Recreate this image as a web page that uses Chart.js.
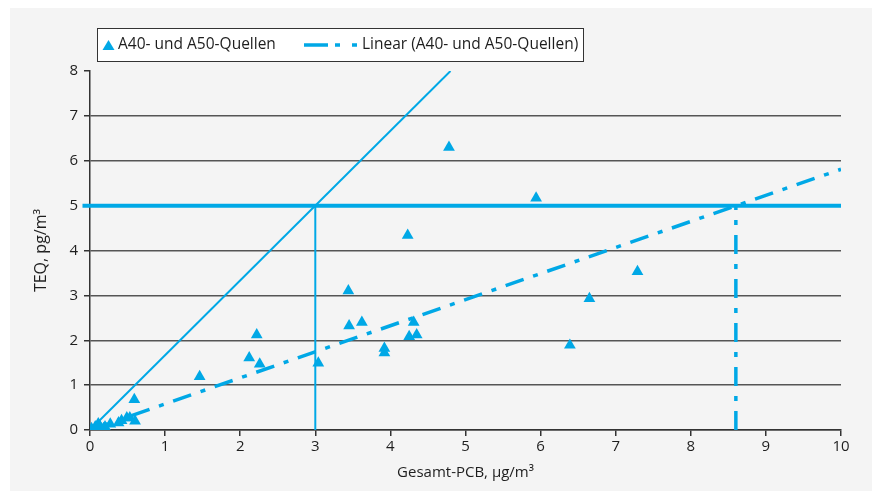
<!DOCTYPE html>
<html>
<head>
<meta charset="utf-8">
<script src="https://cdn.jsdelivr.net/npm/chart.js@4"></script>
<style>
  body { margin: 0; background: #fff; }
  .chart-container { position: absolute; left: 10px; top: 8px; width: 862px; height: 483px; background: #f4f4f4; }
</style>
</head>
<body>
<div class="chart-container"><canvas id="pcbChart"></canvas></div>
<script>
// Measured values (Gesamt-PCB in µg/m3, TEQ in pg/m3)
const pcbValues = [0.02, 0.07, 0.11, 0.13, 0.18, 0.20, 0.27, 0.38, 0.42, 0.49, 0.53, 0.60, 0.59,
                   1.46, 2.12, 2.22, 2.26, 3.04, 3.44, 3.45, 3.62, 3.92, 3.92, 4.23, 4.25,
                   4.31, 4.35, 4.78, 5.94, 6.39, 6.65, 7.29];
const teqValues = [0.03, 0.07, 0.14, 0.09, 0.03, 0.07, 0.13, 0.16, 0.21, 0.27, 0.27, 0.20, 0.68,
                   1.19, 1.61, 2.12, 1.47, 1.49, 3.10, 2.32, 2.40, 1.82, 1.72, 4.34, 2.08,
                   2.40, 2.12, 6.30, 5.17, 1.89, 2.93, 3.53];

// Linear trend (A40- und A50-Quellen)
const trendX = [0, 10];
const trendY = [0, 5.81];

// Guide lines
const limitTeq = 5;
const limitX = [-0.1, 10];
const steepX = [0, 4.8];
const steepY = [0, 8];
const crossSteep = 3;
const crossTrend = 8.6;

const legendLabels = ['A40- und A50-Quellen', 'Linear (A40- und A50-Quellen)'];

const blue = '#00a8e6';
const dashDot = [19, 10, 5, 10];
const fontFamily = '"Open Sans", sans-serif';

function pts(xs, ys) {
    return xs.map((x, i) => ({ x: x, y: ys[i] }));
}

// Legend box drawn on the canvas
const boxLegend = {
    id: 'boxLegend',
    afterDraw(chart) {
        const ctx = chart.ctx;
        ctx.save();
        ctx.fillStyle = '#fff';
        ctx.fillRect(87, 20, 486, 33);
        ctx.strokeStyle = '#333';
        ctx.lineWidth = 1;
        ctx.strokeRect(87.5, 20.5, 486, 33);

        // triangle marker
        ctx.fillStyle = blue;
        ctx.beginPath();
        ctx.moveTo(98.5, 32);
        ctx.lineTo(104.5, 42);
        ctx.lineTo(92.5, 42);
        ctx.closePath();
        ctx.fill();

        ctx.font = '15.5px ' + fontFamily;
        ctx.fillStyle = '#1e1e1e';
        ctx.textBaseline = 'middle';
        ctx.fillText(legendLabels[0], 108, 37);

        // dashed line sample
        ctx.strokeStyle = blue;
        ctx.lineWidth = 3.5;
        ctx.setLineDash([24, 7, 5, 12, 5, 100]);
        ctx.beginPath();
        ctx.moveTo(294, 37);
        ctx.lineTo(348, 37);
        ctx.stroke();
        ctx.setLineDash([]);

        ctx.fillText(legendLabels[1], 352, 37);
        ctx.restore();
    }
};

function renderChart() {
    const ctx = document.getElementById('pcbChart').getContext('2d');

    new Chart(ctx, {
        type: 'scatter',
        data: {
            datasets: [{
                label: legendLabels[0],
                data: pts(pcbValues, teqValues),
                pointStyle: 'triangle',
                pointRadius: 6.8,
                backgroundColor: blue,
                borderWidth: 0
            }, {
                data: pts(steepX, steepY),
                showLine: true,
                borderColor: blue,
                borderWidth: 2,
                pointRadius: 0
            }, {
                data: pts(limitX, [limitTeq, limitTeq]),
                showLine: true,
                borderColor: blue,
                borderWidth: 4,
                pointRadius: 0,
                clip: false
            }, {
                data: pts([crossSteep, crossSteep], [0, limitTeq]),
                showLine: true,
                borderColor: blue,
                borderWidth: 2,
                pointRadius: 0
            }, {
                label: legendLabels[1],
                data: pts(trendX, trendY),
                showLine: true,
                borderColor: blue,
                borderWidth: 3.5,
                borderDash: dashDot,
                pointRadius: 0
            }, {
                data: pts([crossTrend, crossTrend], [0, limitTeq]),
                showLine: true,
                borderColor: blue,
                borderWidth: 3.5,
                borderDash: dashDot,
                pointRadius: 0
            }]
        },
        options: {
            responsive: true,
            maintainAspectRatio: false,
            animation: false,
            layout: { padding: { top: 63, right: 31, left: 0, bottom: 0 } },
            plugins: {
                legend: { display: false },
                tooltip: { enabled: false }
            },
            scales: {
                x: {
                    type: 'linear',
                    min: 0,
                    max: 10,
                    afterFit: (s) => { s.height = 61; },
                    ticks: {
                        stepSize: 1,
                        padding: 2,
                        color: '#1e1e1e',
                        font: { family: fontFamily, size: 15 }
                    },
                    grid: {
                        drawOnChartArea: false,
                        tickLength: 6,
                        tickColor: '#333',
                        lineWidth: 1.5
                    },
                    border: { color: '#333', width: 1.5 },
                    title: {
                        display: true,
                        text: 'Gesamt-PCB, µg/m³',
                        color: '#1e1e1e',
                        font: { family: fontFamily, size: 15 },
                        padding: { top: 0, bottom: 9 }
                    }
                },
                y: {
                    min: 0,
                    max: 8,
                    afterFit: (s) => { s.width = 80; },
                    ticks: {
                        stepSize: 1,
                        padding: 6,
                        color: '#1e1e1e',
                        font: { family: fontFamily, size: 15 }
                    },
                    grid: {
                        color: (c) => (c.tick && c.tick.value === 8) ? 'rgba(0,0,0,0)' : '#555',
                        lineWidth: 1.5,
                        tickLength: 6,
                        tickColor: '#333'
                    },
                    border: { color: '#333', width: 1.5 },
                    title: {
                        display: true,
                        text: 'TEQ, pg/m³',
                        color: '#1e1e1e',
                        font: { family: fontFamily, size: 16 },
                        padding: { top: 22, bottom: 0 }
                    }
                }
            }
        },
        plugins: [boxLegend]
    });
}

document.addEventListener('DOMContentLoaded', renderChart);
</script>
</body>
</html>
